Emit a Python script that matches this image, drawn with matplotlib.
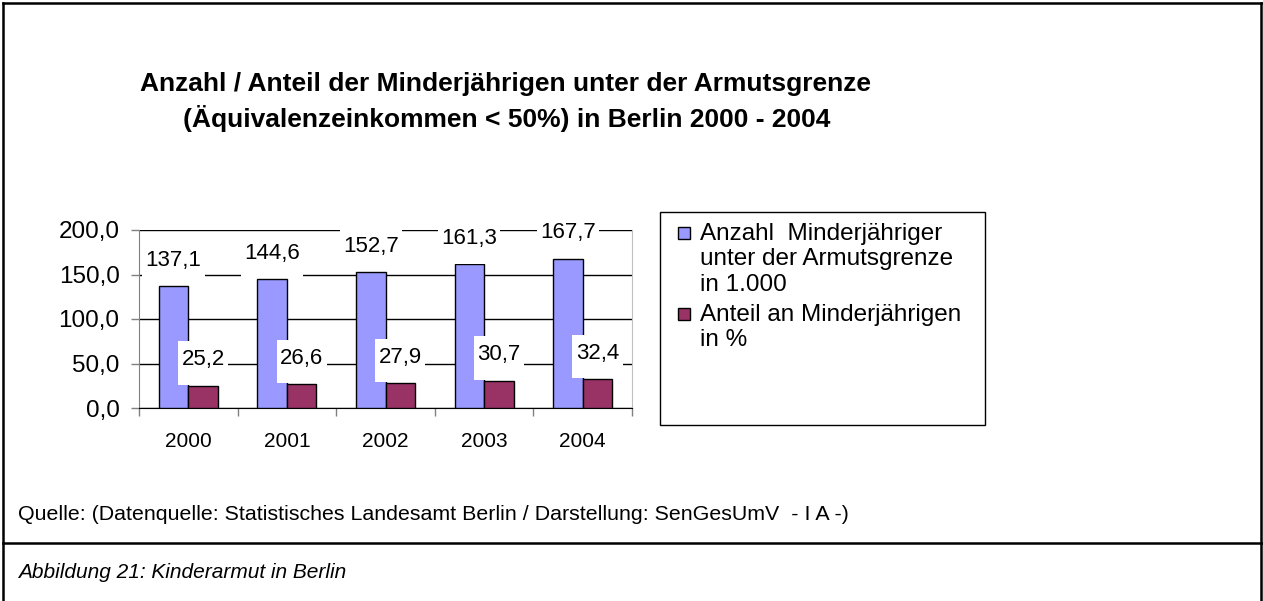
import matplotlib.pyplot as plt
from matplotlib.patches import Rectangle
from matplotlib.lines import Line2D
import numpy as np

plt.rcParams['font.family'] = ['Liberation Sans', 'DejaVu Sans']

years = ['2000', '2001', '2002', '2003', '2004']
anzahl = [137.1, 144.6, 152.7, 161.3, 167.7]
anteil = [25.2, 26.6, 27.9, 30.7, 32.4]
yticks = [0, 50, 100, 150, 200]

W, H = 1263, 601
fig = plt.figure(figsize=(W / 100, H / 100), dpi=100)

def fx(px):
    return px / W

def fy(py):
    return 1 - py / H

# outer frame and caption separator
for xs, ys in [([3, 1262], [3, 3]), ([3, 3], [3, 601]), ([1261, 1261], [3, 601]),
               ([3, 1262], [543, 543])]:
    fig.add_artist(Line2D([fx(x) for x in xs], [fy(y) for y in ys], color='black', lw=1.8))

fig.text(fx(506), fy(84), 'Anzahl / Anteil der Minderjährigen unter der Armutsgrenze',
         ha='center', va='center', fontsize=19, fontweight='bold')
fig.text(fx(507), fy(119), '(Äquivalenzeinkommen < 50%) in Berlin 2000 - 2004',
         ha='center', va='center', fontsize=19, fontweight='bold')

ax = fig.add_axes([fx(139), fy(408), fx(632) - fx(139), (408 - 230) / H])
x = np.arange(len(years))
bw = 0.3
ax.bar(x - bw / 2, anzahl, bw, color='#9999FF', edgecolor='black', lw=1, zorder=3)
ax.bar(x + bw / 2, anteil, bw, color='#993366', edgecolor='black', lw=1, zorder=3)

ax.set_ylim(0, 200)
ax.set_xlim(-0.5, len(years) - 0.5)
ax.set_yticks(yticks)
ax.set_yticklabels([f'{v:.1f}'.replace('.', ',') for v in yticks], fontsize=17.5)
ax.set_xticks(x)
ax.set_xticklabels(years, fontsize=15)
ax.set_xticks(np.arange(len(years) + 1) - 0.5, minor=True)
ax.tick_params(axis='x', which='major', length=0, pad=17)
ax.tick_params(axis='x', which='minor', length=6, width=1, color='gray')
ax.tick_params(axis='y', length=6, width=1, color='gray', pad=8)
ax.grid(axis='y', color='black', lw=1, zorder=0)
ax.spines['top'].set_visible(False)
ax.spines['right'].set_color('#c0c0c0')
ax.spines['left'].set_color('gray')
ax.spines['bottom'].set_color('black')

# value labels with white boxes
for xs, vals in [(x - bw / 2, anzahl), (x + bw / 2, anteil)]:
    for xi, v in zip(xs, vals):
        txt = f'{v:.1f}'.replace('.', ',')
        bwid = 0.63 if len(txt) > 4 else 0.51
        ax.add_patch(Rectangle((xi - bwid / 2, v + 1), bwid, 49, facecolor='white',
                               edgecolor='none', zorder=4, clip_on=False))
        ax.text(xi, v + 29, txt, ha='center', va='center', fontsize=16, zorder=5)

# legend box
fig.add_artist(Rectangle((fx(660), fy(425)), fx(985) - fx(660), (425 - 212) / H,
                         facecolor='white', edgecolor='black', lw=1))
leg = [('#9999FF', 233, 'Anzahl  Minderjähriger\nunter der Armutsgrenze\nin 1.000'),
       ('#993366', 314, 'Anteil an Minderjährigen\nin %')]
for col, py, lab in leg:
    fig.add_artist(Rectangle((fx(678), fy(py + 6)), fx(12), 12 / H,
                             facecolor=col, edgecolor='black', lw=1))
    fig.text(fx(700), fy(py - 10), lab, ha='left', va='top', fontsize=17.5, linespacing=1.2)

fig.text(fx(18), fy(514), 'Quelle: (Datenquelle: Statistisches Landesamt Berlin / Darstellung: SenGesUmV  - I A -)',
         ha='left', va='center', fontsize=15.4)
fig.text(fx(18), fy(573), 'Abbildung 21: Kinderarmut in Berlin',
         ha='left', va='center', fontsize=15, style='italic')

fig.savefig('out.png', dpi=100)
